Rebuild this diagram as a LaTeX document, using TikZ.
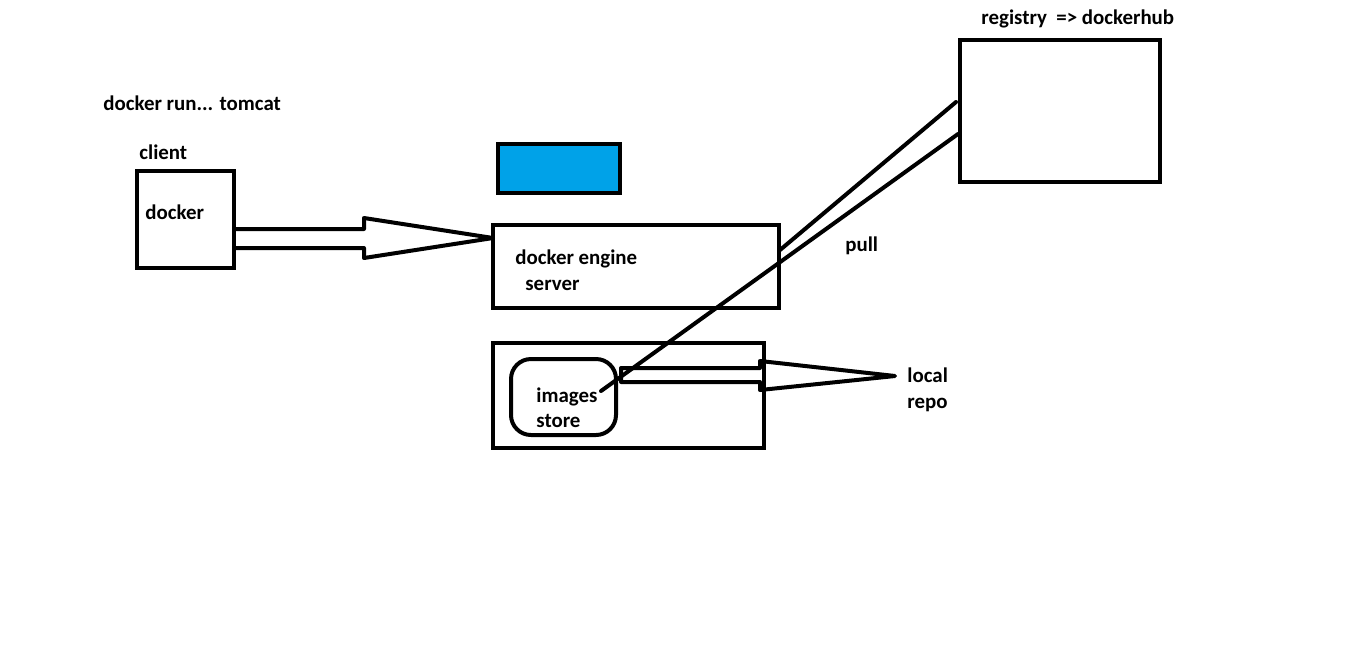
\documentclass[tikz,border=0pt]{standalone}
\usepackage{fontspec}
\setmainfont{Carlito}
\usetikzlibrary{calc}
\definecolor{paintblue}{HTML}{00A2E8}
\begin{document}
\begin{tikzpicture}[x=0.5pt, y=-0.5pt,
    box/.style={draw, line width=2pt, outer sep=0pt, inner sep=0pt},
    lbl/.style={anchor=base west, inner sep=0pt, font=\fontsize{10.45}{12}\selectfont\bfseries},
    pen/.style={line width=2pt, line cap=round, line join=round}]
\useasboundingbox (0,0) rectangle (1354,650);

% boxes
\node[box, minimum width=48.5pt, minimum height=48.5pt] (client) at (185.5,219.5) {};
\node[box, fill=paintblue, minimum width=61pt, minimum height=24.5pt] (container) at (559,168.5) {};
\node[box, minimum width=143pt, minimum height=41.5pt] (engine) at (636,266.5) {};
\node[box, minimum width=135.5pt, minimum height=52.5pt] (repo) at (628.5,395.5) {};
\node[box, rounded corners=10pt, minimum width=52.5pt, minimum height=38pt] (store) at (563.5,397) {};
\node[box, minimum width=100pt, minimum height=71pt] (registry) at (1060,111) {};

% texts
\node[lbl] (cmd) at (103,110) {docker run... tomcat};
\node[lbl] (clientlbl) at (139,159) {client};
\node[lbl] (dockerlbl) at (145,219) {docker};
\node[lbl] (enginelbl) at (515,264) {docker engine};
\node[lbl] (serverlbl) at (525,290) {server};
\node[lbl] (imageslbl) at (536,402) {images};
\node[lbl] (storelbl) at (536,427) {store};
\node[lbl] (locallbl) at (907,382) {local};
\node[lbl] (repolbl) at (907,408) {repo};
\node[lbl] (pulllbl) at (845,251) {pull};
\node[lbl] (reglbl) at (981,24) {registry~ => dockerhub};

% client -> engine
\coordinate (tip1) at ($(engine.west)+(0,-28.5)$);
\draw[pen] ($(client.east)+(0,9.5)$) -- ++(130,0) -- ++(0,-11) -- (tip1)
    -- ++(-129,20) -- ++(0,-10) -- ($(client.east)+(0,28.5)$);

% images store -> local repo
\coordinate (tip2) at ($(locallbl.base west)+(-12,-6)$);
\draw[pen] ($(store.east)+(5,-29)$) -- ++(139,0) -- ++(0,-7) -- (tip2)
    -- ++(-135,14) -- ++(0,-8) -- ++(-139,0) -- cycle;

% pull lines
\draw[pen] ($(registry.west)+(-4,-9)$) -- ($(engine.east)+(1,-16.5)$);
\draw[pen] ($(registry.west)+(-2,23)$) -- ($(store.center)+(37.5,-6)$);
\end{tikzpicture}
\end{document}
